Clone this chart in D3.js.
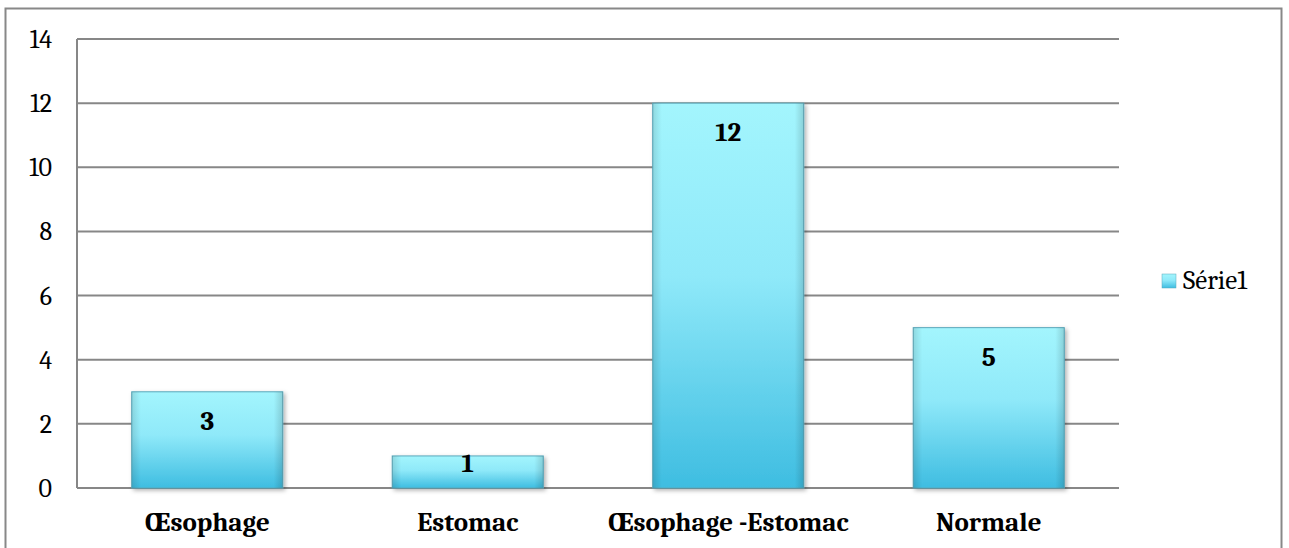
<!DOCTYPE html>
<html>
<head>
<meta charset="utf-8">
<script src="https://cdn.jsdelivr.net/npm/d3@7"></script>
<style>
  body { margin: 0; background: #fff; }
  svg { display: block; }
</style>
</head>
<body>
<svg width="1289" height="548"></svg>
<script>
const categories = ["Œsophage", "Estomac", "Œsophage -Estomac", "Normale"];
const values = [3, 1, 12, 5];
const yTicks = [0, 2, 4, 6, 8, 10, 12, 14];
const seriesName = "Série1";

const svg = d3.select("svg");
const font = "Cambria, Caladea, 'Liberation Serif', serif";

// outer chart frame
svg.append("rect")
    .attr("x", 5.5).attr("y", 8.5)
    .attr("width", 1276).attr("height", 560)
    .attr("fill", "#fff")
    .attr("stroke", "#888").attr("stroke-width", 2);

const plotLeft = 77, plotRight = 1119, plotTop = 39, plotBottom = 488;

const x = d3.scaleBand().domain(categories).range([plotLeft, plotRight]).paddingInner(0.42).paddingOuter(0.21);
const y = d3.scaleLinear().domain([0, 14]).range([plotBottom, plotTop]);

const defs = svg.append("defs");
const grad = defs.append("linearGradient").attr("id", "barGrad")
    .attr("x1", 0).attr("y1", 0).attr("x2", 0).attr("y2", 1);
grad.append("stop").attr("offset", "0%").attr("stop-color", "#a3f5fd");
grad.append("stop").attr("offset", "45%").attr("stop-color", "#8fe9f9");
grad.append("stop").attr("offset", "100%").attr("stop-color", "#3ebde1");

const side = defs.append("linearGradient").attr("id", "sideGrad")
    .attr("x1", 0).attr("y1", 0).attr("x2", 1).attr("y2", 0);
side.append("stop").attr("offset", "0%").attr("stop-color", "#000").attr("stop-opacity", 0.12);
side.append("stop").attr("offset", "6%").attr("stop-color", "#000").attr("stop-opacity", 0);
side.append("stop").attr("offset", "94%").attr("stop-color", "#000").attr("stop-opacity", 0);
side.append("stop").attr("offset", "100%").attr("stop-color", "#000").attr("stop-opacity", 0.15);

const shadow = defs.append("filter").attr("id", "shadow").attr("x", "-10%").attr("y", "-10%").attr("width", "130%").attr("height", "130%");
shadow.append("feDropShadow").attr("dx", 2).attr("dy", 2).attr("stdDeviation", 2).attr("flood-color", "#000").attr("flood-opacity", 0.3);

// gridlines
svg.append("g")
  .selectAll("line")
  .data(yTicks)
  .join("line")
    .attr("x1", plotLeft).attr("x2", plotRight)
    .attr("y1", d => y(d)).attr("y2", d => y(d))
    .attr("stroke", "#878787").attr("stroke-width", 2);

// y axis line
svg.append("line")
    .attr("x1", plotLeft).attr("x2", plotLeft)
    .attr("y1", plotTop).attr("y2", plotBottom)
    .attr("stroke", "#878787").attr("stroke-width", 2);

// y tick labels
svg.append("g")
  .selectAll("text")
  .data(yTicks)
  .join("text")
    .attr("x", 52).attr("y", d => y(d) + 9)
    .attr("text-anchor", "end")
    .attr("font-family", font).attr("font-size", 26)
    .text(d => d);

// bars
const bars = svg.append("g").selectAll("g")
  .data(categories)
  .join("g");

bars.append("rect")
    .attr("x", d => x(d)).attr("y", (d, i) => y(values[i]))
    .attr("width", x.bandwidth())
    .attr("height", (d, i) => y(0) - y(values[i]))
    .attr("fill", "url(#barGrad)")
    .attr("stroke", "#5aa8bb").attr("stroke-width", 1)
    .attr("filter", "url(#shadow)");

bars.append("rect")
    .attr("x", d => x(d)).attr("y", (d, i) => y(values[i]))
    .attr("width", x.bandwidth())
    .attr("height", (d, i) => y(0) - y(values[i]))
    .attr("fill", "url(#sideGrad)");

// value labels (inside end; short bars get the label just under the top)
bars.append("text")
    .attr("x", d => x(d) + x.bandwidth() / 2)
    .attr("y", (d, i) => {
      const h = y(0) - y(values[i]);
      return h > 60 ? y(values[i]) + 38 : y(values[i]) + 16;
    })
    .attr("text-anchor", "middle")
    .attr("font-family", font).attr("font-size", 27).attr("font-weight", "bold")
    .text((d, i) => values[i]);

// category labels
svg.append("g")
  .selectAll("text")
  .data(categories)
  .join("text")
    .attr("x", d => x(d) + x.bandwidth() / 2)
    .attr("y", 531)
    .attr("text-anchor", "middle")
    .attr("font-family", font).attr("font-size", 27).attr("font-weight", "bold")
    .text(d => d);

// legend
const legend = svg.append("g").attr("transform", "translate(1162,274)");
legend.append("rect")
    .attr("width", 14).attr("height", 14)
    .attr("fill", "url(#barGrad)").attr("stroke", "#5aa8bb").attr("stroke-width", 0.5);
legend.append("text")
    .attr("x", 21).attr("y", 15)
    .attr("font-family", font).attr("font-size", 27)
    .text(seriesName);
</script>
</body>
</html>
